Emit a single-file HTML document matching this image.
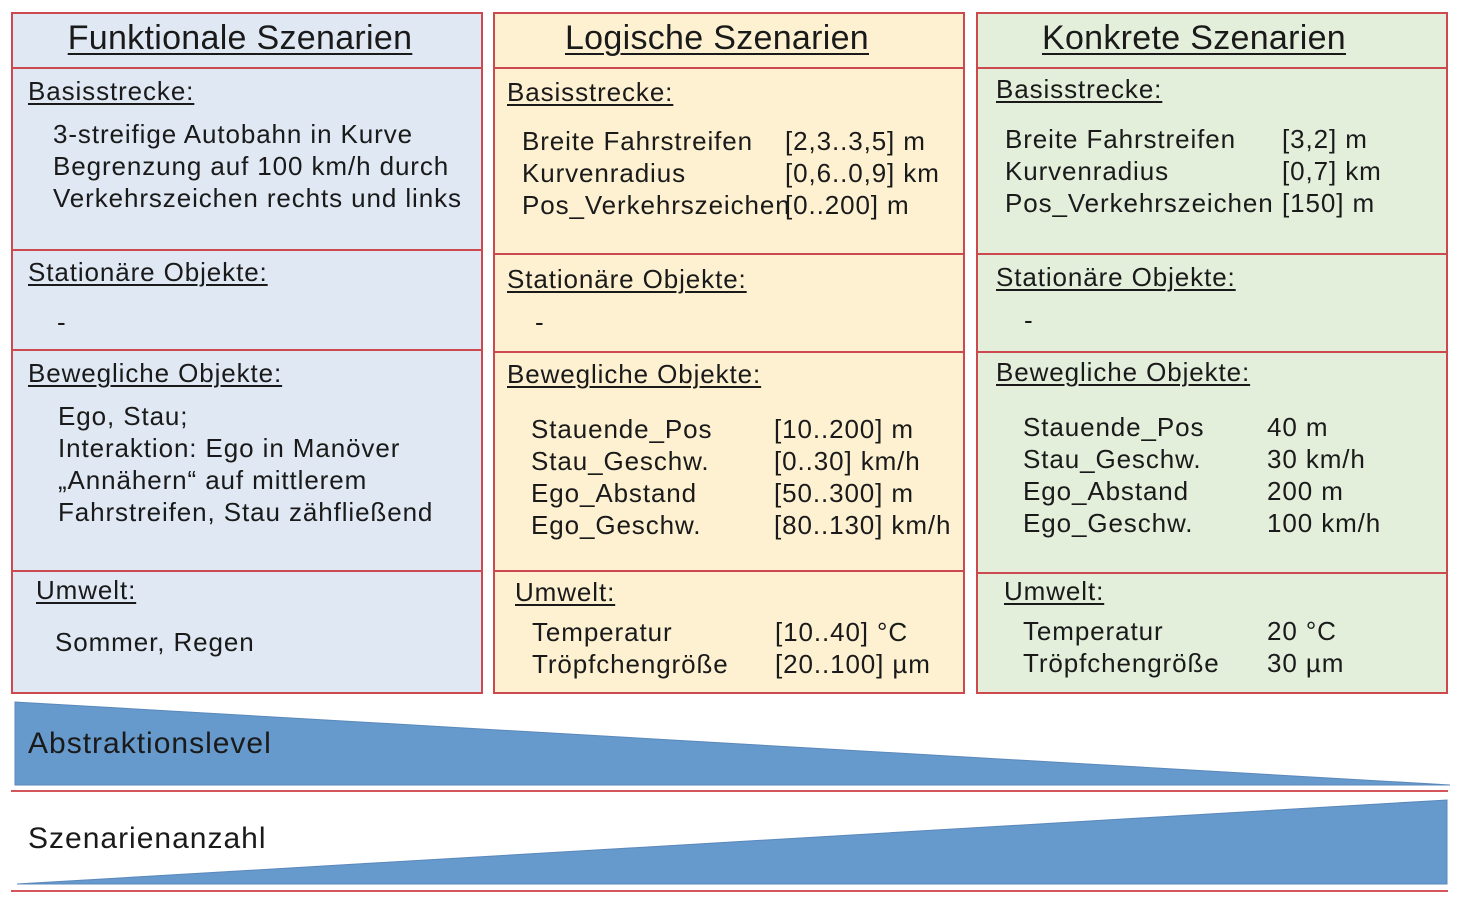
<!DOCTYPE html>
<html><head><meta charset="utf-8"><style>
body{margin:0;width:1460px;height:904px;background:#fff;position:relative;overflow:hidden;font-family:"Liberation Sans",sans-serif;color:#1a1a1a}
.c{position:absolute;top:12px;height:682px;border:2px solid #cc4a4f;box-sizing:border-box}
.h{position:absolute;left:0;right:0;border-top:2px solid #cc4a4f}
.t{position:absolute;font-size:26px;line-height:32px;white-space:pre;letter-spacing:0.9px}
.u{text-decoration:underline;text-decoration-thickness:1.5px;text-underline-offset:3px}
.hd{position:absolute;top:16px;font-size:34px;line-height:44px;text-align:center;text-decoration:underline;text-decoration-thickness:2px;text-underline-offset:4px;letter-spacing:0.3px}
</style></head><body>
<div class="c" style="left:11px;width:472px;background:#dfe8f3">
 <div class="h" style="top:53px"></div><div class="h" style="top:235px"></div><div class="h" style="top:335px"></div><div class="h" style="top:556px"></div>
</div>
<div class="c" style="left:493px;width:472px;background:#fdf1d1">
 <div class="h" style="top:53px"></div><div class="h" style="top:239px"></div><div class="h" style="top:337px"></div><div class="h" style="top:556px"></div>
</div>
<div class="c" style="left:976px;width:472px;background:#e3eedb">
 <div class="h" style="top:53px"></div><div class="h" style="top:239px"></div><div class="h" style="top:337px"></div><div class="h" style="top:558px"></div>
</div>
<div class="hd" style="left:11px;width:458px">Funktionale Szenarien</div>
<div class="hd" style="left:493px;width:448px">Logische Szenarien</div>
<div class="hd" style="left:976px;width:436px">Konkrete Szenarien</div>

<div class="t u" style="left:28px;top:75px">Basisstrecke:</div>
<div class="t" style="left:53px;top:118px">3-streifige Autobahn in Kurve
Begrenzung auf 100 km/h durch
Verkehrszeichen rechts und links</div>
<div class="t u" style="left:28px;top:256px">Stationäre Objekte:</div>
<div class="t" style="left:57px;top:306px">-</div>
<div class="t u" style="left:28px;top:357px">Bewegliche Objekte:</div>
<div class="t" style="left:58px;top:400px">Ego, Stau;
Interaktion: Ego in Manöver
„Annähern“ auf mittlerem
Fahrstreifen, Stau zähfließend</div>
<div class="t u" style="left:36px;top:574px">Umwelt:</div>
<div class="t" style="left:55px;top:626px">Sommer, Regen</div>

<div class="t u" style="left:507px;top:76px">Basisstrecke:</div>
<div class="t" style="left:522px;top:125px">Breite Fahrstreifen
Kurvenradius
Pos_Verkehrszeichen</div>
<div class="t" style="left:785px;top:125px">[2,3..3,5] m
[0,6..0,9] km
[0..200] m</div>
<div class="t u" style="left:507px;top:263px">Stationäre Objekte:</div>
<div class="t" style="left:535px;top:306px">-</div>
<div class="t u" style="left:507px;top:358px">Bewegliche Objekte:</div>
<div class="t" style="left:531px;top:413px">Stauende_Pos
Stau_Geschw.
Ego_Abstand
Ego_Geschw.</div>
<div class="t" style="left:774px;top:413px">[10..200] m
[0..30] km/h
[50..300] m
[80..130] km/h</div>
<div class="t u" style="left:515px;top:576px">Umwelt:</div>
<div class="t" style="left:532px;top:616px">Temperatur
Tröpfchengröße</div>
<div class="t" style="left:775px;top:616px">[10..40] °C
[20..100] µm</div>

<div class="t u" style="left:996px;top:73px">Basisstrecke:</div>
<div class="t" style="left:1005px;top:123px">Breite Fahrstreifen
Kurvenradius
Pos_Verkehrszeichen</div>
<div class="t" style="left:1282px;top:123px">[3,2] m
[0,7] km
[150] m</div>
<div class="t u" style="left:996px;top:261px">Stationäre Objekte:</div>
<div class="t" style="left:1024px;top:304px">-</div>
<div class="t u" style="left:996px;top:356px">Bewegliche Objekte:</div>
<div class="t" style="left:1023px;top:411px">Stauende_Pos
Stau_Geschw.
Ego_Abstand
Ego_Geschw.</div>
<div class="t" style="left:1267px;top:411px">40 m
30 km/h
200 m
100 km/h</div>
<div class="t u" style="left:1004px;top:575px">Umwelt:</div>
<div class="t" style="left:1023px;top:615px">Temperatur
Tröpfchengröße</div>
<div class="t" style="left:1267px;top:615px">20 °C
30 µm</div>

<svg style="position:absolute;left:0;top:0" width="1460" height="904">
 <polygon points="15,702 15,785 1450,785" fill="#6699cc" stroke="#5a88bb" stroke-width="1"/>
 <line x1="11" y1="791" x2="1448" y2="791" stroke="#d4565b" stroke-width="2"/>
 <polygon points="17,884 1447,800 1447,884" fill="#6699cc" stroke="#5a88bb" stroke-width="1"/>
 <line x1="11" y1="891" x2="1448" y2="891" stroke="#d4565b" stroke-width="2"/>
</svg>
<div class="t" style="left:28px;top:724px;font-size:30px;line-height:40px;letter-spacing:1px">Abstraktionslevel</div>
<div class="t" style="left:28px;top:819px;font-size:30px;line-height:40px;letter-spacing:1px">Szenarienanzahl</div>
</body></html>
